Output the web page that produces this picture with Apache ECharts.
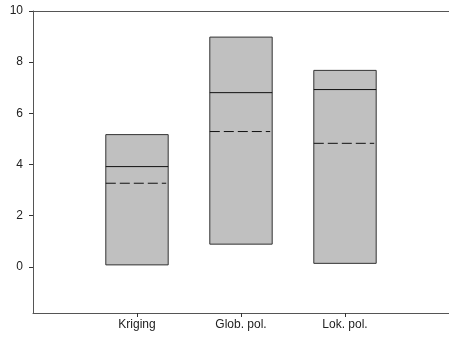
<!DOCTYPE html>
<html>
<head>
<meta charset="utf-8">
<script src="https://cdn.jsdelivr.net/npm/echarts@6/dist/echarts.min.js"></script>
<style>
  html, body { margin: 0; padding: 0; background: #fff; }
  #chart { width: 449px; height: 339px; }
</style>
</head>
<body>
<div id="chart"></div>
<script>
// Range boxes per method: minimum, maximum, solid line and dashed line values
const categories = ['Kriging', 'Glob. pol.', 'Lok. pol.'];
const minValues = [0.08, 0.89, 0.14];
const maxValues = [5.17, 8.98, 7.68];
const solidValues = [3.92, 6.81, 6.93];
const dashedValues = [3.27, 5.29, 4.83];
const yTicks = [0, 2, 4, 6, 8, 10];

const positions = categories.map((c, i) => i + 1);
const boxData = categories.map((c, i) => [positions[i], minValues[i], maxValues[i], solidValues[i], dashedValues[i]]);

const HALF = 0.3;
const font = '"Liberation Sans", Arial, sans-serif';
const axisColor = '#555';

const chart = echarts.init(document.getElementById('chart'), null, { renderer: 'canvas' });
chart.setOption({
  animation: false,
  grid: { left: 33, top: 11, bottom: 26, right: -4 },
  xAxis: [{
    type: 'value', min: 0, max: 4, position: 'bottom',
    splitLine: { show: false },
    axisLine: { show: true, onZero: false, lineStyle: { color: axisColor, width: 1 } },
    axisTick: { show: true, length: 4, lineStyle: { color: '#333' }, customValues: positions },
    axisLabel: {
      customValues: positions, margin: 6, color: '#222', fontSize: 12, fontFamily: font,
      formatter: v => categories[Math.round(v) - 1] || ''
    }
  }, {
    // frame line along the top of the plot
    type: 'value', min: 0, max: 4, position: 'top',
    splitLine: { show: false },
    axisLine: { show: true, onZero: false, lineStyle: { color: axisColor, width: 1 } },
    axisTick: { show: false },
    axisLabel: { show: false }
  }],
  yAxis: {
    type: 'value', min: -1.8, max: 10,
    splitLine: { show: false },
    axisLine: { show: true, onZero: false, lineStyle: { color: axisColor, width: 1 } },
    axisTick: { show: true, length: 4, lineStyle: { color: '#333' }, customValues: yTicks },
    axisLabel: { customValues: yTicks, margin: 10, color: '#222', fontSize: 12, fontFamily: font }
  },
  series: [{
    type: 'custom',
    xAxisIndex: 0,
    data: boxData,
    renderItem: (params, api) => {
      const x = api.value(0);
      const lo = api.value(1), hi = api.value(2), solid = api.value(3), dashed = api.value(4);
      const tl = api.coord([x - HALF, hi]);
      const br = api.coord([x + HALF, lo]);
      const sL = api.coord([x - HALF, solid]);
      const sR = api.coord([x + HALF, solid]);
      const dL = api.coord([x - HALF, dashed]);
      const dR = api.coord([x + HALF, dashed]);
      return {
        type: 'group',
        children: [
          {
            type: 'rect',
            shape: { x: tl[0], y: tl[1], width: br[0] - tl[0], height: br[1] - tl[1] },
            style: { fill: '#c0c0c0', stroke: '#333', lineWidth: 1 }
          },
          {
            type: 'line',
            shape: { x1: sL[0], y1: sL[1], x2: sR[0], y2: sR[1] },
            style: { stroke: '#111', lineWidth: 1 }
          },
          {
            type: 'line',
            shape: { x1: dL[0], y1: dL[1], x2: dR[0] - 2, y2: dR[1] },
            style: { stroke: '#111', lineWidth: 1, lineDash: [10, 4] }
          }
        ]
      };
    }
  }]
});
</script>
</body>
</html>
